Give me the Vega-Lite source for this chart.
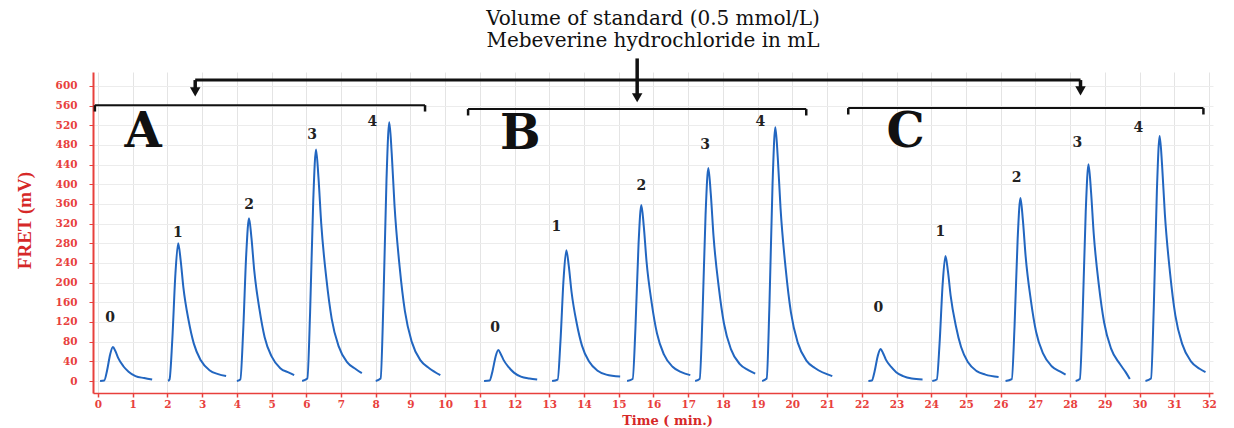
{
  "$schema": "https://vega.github.io/schema/vega-lite/v6.json",
  "autosize": {"type": "none"},
  "width": 1120,
  "height": 321,
  "padding": {"left": 93, "top": 72, "right": 21, "bottom": 35},
  "background": "white",
  "view": {"stroke": null},
  "title": {
    "text": ["Volume of standard (0.5 mmol/L)", "Mebeverine hydrochloride in mL"],
    "font": "DejaVu Serif",
    "fontSize": 20,
    "fontWeight": "normal",
    "color": "#111111",
    "lineHeight": 22,
    "anchor": "middle",
    "offset": 6
  },
  "datasets": {
    "peaks": [
      {"s":"A0","t":0.06,"v":0},{"s":"A0","t":0.18,"v":1},{"s":"A0","t":0.26,"v":21},{"s":"A0","t":0.35,"v":54},{"s":"A0","t":0.43,"v":69},{"s":"A0","t":0.50,"v":61},{"s":"A0","t":0.58,"v":47},{"s":"A0","t":0.73,"v":30},{"s":"A0","t":0.88,"v":19},{"s":"A0","t":1.08,"v":10},{"s":"A0","t":1.33,"v":6},{"s":"A0","t":1.56,"v":3},
      {"s":"A1","t":2.02,"v":0},{"s":"A1","t":2.06,"v":3},{"s":"A1","t":2.14,"v":84},{"s":"A1","t":2.23,"v":218},{"s":"A1","t":2.31,"v":280},{"s":"A1","t":2.38,"v":246},{"s":"A1","t":2.46,"v":190},{"s":"A1","t":2.61,"v":123},{"s":"A1","t":2.76,"v":76},{"s":"A1","t":2.96,"v":42},{"s":"A1","t":3.21,"v":22},{"s":"A1","t":3.46,"v":14},{"s":"A1","t":3.69,"v":10},
      {"s":"A2","t":4.00,"v":0},{"s":"A2","t":4.10,"v":3},{"s":"A2","t":4.18,"v":99},{"s":"A2","t":4.27,"v":258},{"s":"A2","t":4.35,"v":331},{"s":"A2","t":4.42,"v":291},{"s":"A2","t":4.50,"v":225},{"s":"A2","t":4.65,"v":146},{"s":"A2","t":4.80,"v":89},{"s":"A2","t":5.00,"v":50},{"s":"A2","t":5.25,"v":26},{"s":"A2","t":5.50,"v":17},{"s":"A2","t":5.65,"v":12},
      {"s":"A3","t":5.88,"v":0},{"s":"A3","t":6.03,"v":5},{"s":"A3","t":6.11,"v":141},{"s":"A3","t":6.20,"v":367},{"s":"A3","t":6.28,"v":471},{"s":"A3","t":6.35,"v":414},{"s":"A3","t":6.43,"v":320},{"s":"A3","t":6.58,"v":207},{"s":"A3","t":6.73,"v":127},{"s":"A3","t":6.93,"v":71},{"s":"A3","t":7.18,"v":38},{"s":"A3","t":7.43,"v":24},{"s":"A3","t":7.60,"v":16},
      {"s":"A4","t":8.00,"v":0},{"s":"A4","t":8.14,"v":5},{"s":"A4","t":8.22,"v":158},{"s":"A4","t":8.31,"v":410},{"s":"A4","t":8.39,"v":526},{"s":"A4","t":8.46,"v":463},{"s":"A4","t":8.54,"v":358},{"s":"A4","t":8.69,"v":231},{"s":"A4","t":8.84,"v":142},{"s":"A4","t":9.04,"v":79},{"s":"A4","t":9.29,"v":42},{"s":"A4","t":9.54,"v":26},{"s":"A4","t":9.86,"v":12},
      {"s":"B0","t":11.12,"v":0},{"s":"B0","t":11.28,"v":1},{"s":"B0","t":11.36,"v":19},{"s":"B0","t":11.45,"v":49},{"s":"B0","t":11.53,"v":63},{"s":"B0","t":11.60,"v":55},{"s":"B0","t":11.68,"v":43},{"s":"B0","t":11.83,"v":28},{"s":"B0","t":11.98,"v":17},{"s":"B0","t":12.18,"v":9},{"s":"B0","t":12.43,"v":5},{"s":"B0","t":12.65,"v":3},
      {"s":"B1","t":13.08,"v":0},{"s":"B1","t":13.24,"v":3},{"s":"B1","t":13.32,"v":80},{"s":"B1","t":13.41,"v":207},{"s":"B1","t":13.49,"v":266},{"s":"B1","t":13.56,"v":234},{"s":"B1","t":13.64,"v":181},{"s":"B1","t":13.79,"v":117},{"s":"B1","t":13.94,"v":72},{"s":"B1","t":14.14,"v":40},{"s":"B1","t":14.39,"v":21},{"s":"B1","t":14.64,"v":13},{"s":"B1","t":15.04,"v":9},
      {"s":"B2","t":15.24,"v":0},{"s":"B2","t":15.40,"v":4},{"s":"B2","t":15.48,"v":107},{"s":"B2","t":15.57,"v":279},{"s":"B2","t":15.65,"v":358},{"s":"B2","t":15.72,"v":315},{"s":"B2","t":15.80,"v":243},{"s":"B2","t":15.95,"v":158},{"s":"B2","t":16.10,"v":97},{"s":"B2","t":16.30,"v":54},{"s":"B2","t":16.55,"v":29},{"s":"B2","t":16.80,"v":18},{"s":"B2","t":17.06,"v":12},
      {"s":"B3","t":17.20,"v":0},{"s":"B3","t":17.33,"v":4},{"s":"B3","t":17.41,"v":130},{"s":"B3","t":17.50,"v":338},{"s":"B3","t":17.58,"v":433},{"s":"B3","t":17.65,"v":381},{"s":"B3","t":17.73,"v":294},{"s":"B3","t":17.88,"v":191},{"s":"B3","t":18.03,"v":117},{"s":"B3","t":18.23,"v":65},{"s":"B3","t":18.48,"v":35},{"s":"B3","t":18.73,"v":22},{"s":"B3","t":18.93,"v":15},
      {"s":"B4","t":19.13,"v":0},{"s":"B4","t":19.26,"v":5},{"s":"B4","t":19.34,"v":155},{"s":"B4","t":19.43,"v":402},{"s":"B4","t":19.51,"v":516},{"s":"B4","t":19.58,"v":454},{"s":"B4","t":19.66,"v":351},{"s":"B4","t":19.81,"v":227},{"s":"B4","t":19.96,"v":139},{"s":"B4","t":20.16,"v":77},{"s":"B4","t":20.41,"v":41},{"s":"B4","t":20.66,"v":26},{"s":"B4","t":21.15,"v":10},
      {"s":"C0","t":22.19,"v":0},{"s":"C0","t":22.29,"v":1},{"s":"C0","t":22.37,"v":20},{"s":"C0","t":22.46,"v":51},{"s":"C0","t":22.54,"v":65},{"s":"C0","t":22.61,"v":57},{"s":"C0","t":22.69,"v":44},{"s":"C0","t":22.84,"v":29},{"s":"C0","t":22.99,"v":18},{"s":"C0","t":23.19,"v":10},{"s":"C0","t":23.44,"v":5},{"s":"C0","t":23.75,"v":3},
      {"s":"C1","t":24.03,"v":0},{"s":"C1","t":24.16,"v":3},{"s":"C1","t":24.24,"v":76},{"s":"C1","t":24.33,"v":198},{"s":"C1","t":24.41,"v":254},{"s":"C1","t":24.48,"v":224},{"s":"C1","t":24.56,"v":173},{"s":"C1","t":24.71,"v":112},{"s":"C1","t":24.86,"v":69},{"s":"C1","t":25.06,"v":38},{"s":"C1","t":25.31,"v":20},{"s":"C1","t":25.56,"v":13},{"s":"C1","t":25.94,"v":8},
      {"s":"C2","t":26.14,"v":0},{"s":"C2","t":26.32,"v":4},{"s":"C2","t":26.40,"v":112},{"s":"C2","t":26.49,"v":290},{"s":"C2","t":26.57,"v":372},{"s":"C2","t":26.64,"v":327},{"s":"C2","t":26.72,"v":253},{"s":"C2","t":26.87,"v":164},{"s":"C2","t":27.02,"v":100},{"s":"C2","t":27.22,"v":56},{"s":"C2","t":27.47,"v":30},{"s":"C2","t":27.72,"v":19},{"s":"C2","t":27.87,"v":13},
      {"s":"C3","t":28.16,"v":0},{"s":"C3","t":28.28,"v":4},{"s":"C3","t":28.36,"v":132},{"s":"C3","t":28.45,"v":344},{"s":"C3","t":28.53,"v":441},{"s":"C3","t":28.60,"v":388},{"s":"C3","t":28.68,"v":300},{"s":"C3","t":28.83,"v":194},{"s":"C3","t":28.98,"v":119},{"s":"C3","t":29.18,"v":66},{"s":"C3","t":29.43,"v":35},{"s":"C3","t":29.60,"v":18},{"s":"C3","t":29.72,"v":4},
      {"s":"C4","t":30.17,"v":0},{"s":"C4","t":30.33,"v":5},{"s":"C4","t":30.41,"v":149},{"s":"C4","t":30.50,"v":388},{"s":"C4","t":30.58,"v":498},{"s":"C4","t":30.65,"v":438},{"s":"C4","t":30.73,"v":339},{"s":"C4","t":30.88,"v":219},{"s":"C4","t":31.03,"v":134},{"s":"C4","t":31.23,"v":75},{"s":"C4","t":31.48,"v":40},{"s":"C4","t":31.73,"v":25},{"s":"C4","t":31.90,"v":18}
    ],
    "numlabels": [
      {"label":"0","t":0.35,"v":128},{"label":"1","t":2.30,"v":301},{"label":"2","t":4.35,"v":358},{"label":"3","t":6.17,"v":500},{"label":"4","t":7.90,"v":526},
      {"label":"0","t":11.44,"v":108},{"label":"1","t":13.20,"v":313},{"label":"2","t":15.65,"v":396},{"label":"3","t":17.49,"v":480},{"label":"4","t":19.08,"v":526},
      {"label":"0","t":22.48,"v":148},{"label":"1","t":24.26,"v":303},{"label":"2","t":26.46,"v":413},{"label":"3","t":28.21,"v":484},{"label":"4","t":29.97,"v":514}
    ],
    "groups": [
      {"label":"A","t":1.30,"v":504},{"label":"B","t":12.16,"v":500},{"label":"C","t":23.26,"v":504}
    ],
    "brackets": [
      {"t":-0.09,"t2":9.42,"v":561},{"t":10.66,"t2":20.40,"v":553},{"t":21.61,"t2":31.84,"v":555}
    ],
    "bracketEnds": [
      {"t":-0.09,"v":561,"v2":548},{"t":9.42,"v":561,"v2":548},
      {"t":10.66,"v":553,"v2":540},{"t":20.40,"v":553,"v2":540},
      {"t":21.61,"v":555,"v2":542},{"t":31.84,"v":555,"v2":542}
    ],
    "connector": [{"t":2.80,"t2":28.30,"v":612}],
    "shafts": [
      {"t":2.80,"v":612,"v2":590},{"t":15.53,"v":656,"v2":578},{"t":28.30,"v":612,"v2":592}
    ],
    "heads": [
      {"t":2.80,"v":588},{"t":15.53,"v":576},{"t":28.30,"v":590}
    ]
  },
  "encoding": {
    "x": {
      "field": "t", "type": "quantitative",
      "scale": {"domain": [-0.144, 32.116], "nice": false, "zero": false},
      "axis": {
        "values": [0,1,2,3,4,5,6,7,8,9,10,11,12,13,14,15,16,17,18,19,20,21,22,23,24,25,26,27,28,29,30,31,32],
        "title": "Time ( min.)",
        "titleFont": "DejaVu Serif", "titleFontSize": 13, "titleFontWeight": "bold", "titleColor": "#d62828",
        "titleX": 574, "titleY": 31, "titleAlign": "center", "titleBaseline": "alphabetic",
        "labelFont": "DejaVu Serif", "labelFontSize": 10.5, "labelFontWeight": "bold", "labelColor": "#e8403c",
        "labelPadding": 2, "labelFlush": false, "labelOverlap": false,
        "domainColor": "#e8403c", "domainWidth": 1.5,
        "tickColor": "#e8403c", "tickSize": 4, "tickWidth": 1.5,
        "grid": true, "gridColor": "#e4e4e4", "gridWidth": 1
      }
    },
    "y": {
      "field": "v", "type": "quantitative",
      "scale": {"domain": [-24.4, 628.4], "nice": false, "zero": false},
      "axis": {
        "values": [0,40,80,120,160,200,240,280,320,360,400,440,480,520,560,600],
        "title": "FRET (mV)",
        "titleFont": "Liberation Serif", "titleFontSize": 19, "titleFontWeight": "bold", "titleColor": "#d62828",
        "titlePadding": 21, "titleY": 148,
        "labelFont": "DejaVu Serif", "labelFontSize": 10.5, "labelFontWeight": "bold", "labelColor": "#e8403c",
        "labelPadding": 12, "labelFlush": false, "labelOverlap": false,
        "domainColor": "#e8403c", "domainWidth": 2,
        "tickColor": "#e8403c", "tickSize": 4, "tickWidth": 1,
        "grid": true, "gridColor": "#ececec", "gridWidth": 1
      }
    }
  },
  "layer": [
    {
      "data": {"name": "peaks"},
      "mark": {"type": "line", "color": "#2266c0", "strokeWidth": 2, "interpolate": "monotone", "clip": false},
      "encoding": {"detail": {"field": "s", "type": "nominal"}}
    },
    {
      "data": {"name": "numlabels"},
      "mark": {"type": "text", "font": "DejaVu Serif", "fontSize": 14, "fontWeight": "bold", "color": "#222222", "baseline": "middle", "align": "center"},
      "encoding": {"text": {"field": "label"}}
    },
    {
      "data": {"name": "groups"},
      "mark": {"type": "text", "font": "DejaVu Serif", "fontSize": 48, "fontWeight": "bold", "color": "#111111", "baseline": "middle", "align": "center"},
      "encoding": {"text": {"field": "label"}}
    },
    {
      "data": {"name": "brackets"},
      "mark": {"type": "rule", "color": "#111111", "strokeWidth": 2, "clip": false},
      "encoding": {"x2": {"field": "t2"}}
    },
    {
      "data": {"name": "bracketEnds"},
      "mark": {"type": "rule", "color": "#111111", "strokeWidth": 2.5, "clip": false},
      "encoding": {"y2": {"field": "v2"}}
    },
    {
      "data": {"name": "connector"},
      "mark": {"type": "rule", "color": "#111111", "strokeWidth": 3, "clip": false},
      "encoding": {"x2": {"field": "t2"}}
    },
    {
      "data": {"name": "shafts"},
      "mark": {"type": "rule", "color": "#111111", "strokeWidth": 3.5, "clip": false},
      "encoding": {"y2": {"field": "v2"}}
    },
    {
      "data": {"name": "heads"},
      "mark": {"type": "point", "shape": "triangle-down", "filled": true, "color": "#111111", "opacity": 1, "size": 110, "clip": false}
    }
  ]
}
